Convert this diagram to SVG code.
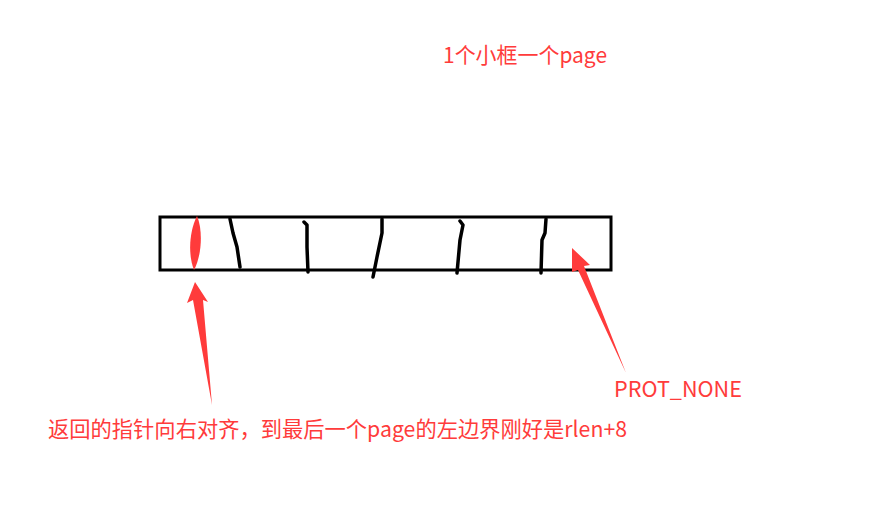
<svg xmlns="http://www.w3.org/2000/svg" width="885" height="506" viewBox="0 0 885 506">
<style>
.lbl{font-family:"Microsoft YaHei","Noto Sans CJK SC","Noto Sans",sans-serif;font-size:21.5px;fill:#ff3b3b}
.ink{fill:none;stroke:#000;stroke-width:3.5;stroke-linecap:round;stroke-linejoin:round}
.red{fill:#ff3b3b}
</style>
<rect width="885" height="506" fill="#fff"/>
<g id="title"><text class="lbl" x="443" y="63" textLength="164" lengthAdjust="spacingAndGlyphs">1个小框一个page</text></g>
<g id="pages">
<rect x="160" y="217" width="451" height="53" fill="none" stroke="#000" stroke-width="3"/>
<path class="red" d="M197,216 C203,230 202,255 194,270 C188,255 189,232 197,216 Z"/>
<path class="ink" d="M230,219 L233,233 L237,247 L240,267"/>
<path class="ink" d="M304,222 L307,225 L307,247 L308,272"/>
<path class="ink" d="M382,219 L382,233 L377,257 L373,277"/>
<path class="ink" d="M460,221 L463,225 L460,240 L457,273"/>
<path class="ink" d="M546,219 L545,233 L542,240 L541,273"/>
</g>
<g id="connectors">
<polygon class="red" points="195,282 208,302 203,300 212,405 193,300 187,303"/>
<polygon class="red" points="572,248 590,265 584,266 626,373 578,270 572,272"/>
</g>
<g id="prot"><text class="lbl" x="614" y="397" textLength="128" lengthAdjust="spacingAndGlyphs">PROT_NONE</text></g>
<g id="note"><text class="lbl" x="48" y="437" textLength="579" lengthAdjust="spacingAndGlyphs">返回的指针向右对齐，到最后一个page的左边界刚好是rlen+8</text></g>
</svg>
